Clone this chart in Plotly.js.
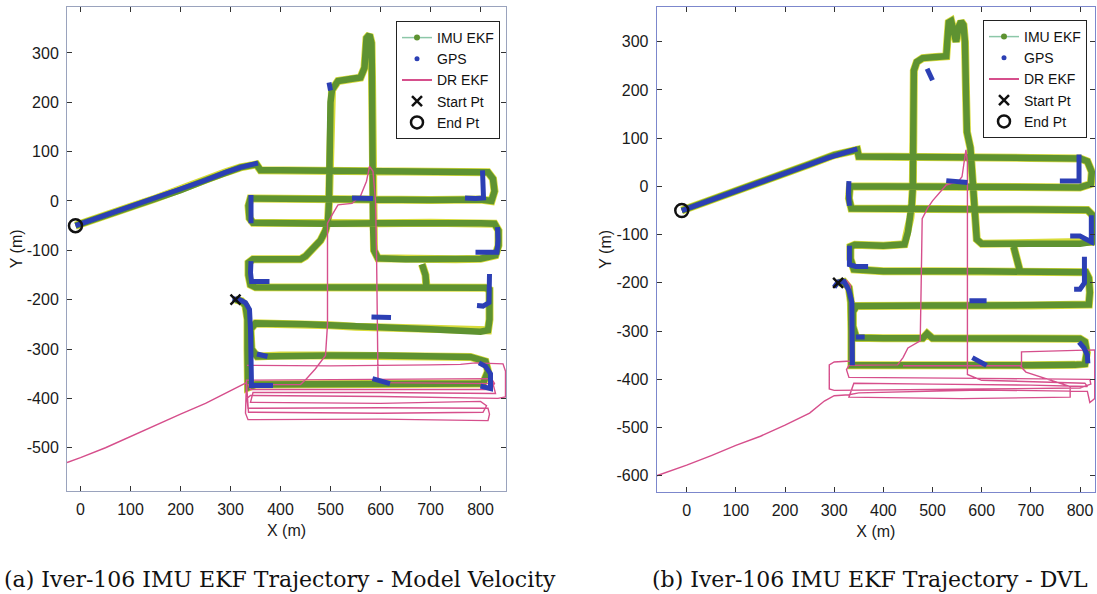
<!DOCTYPE html>
<html><head><meta charset="utf-8">
<script src="https://cdn.plot.ly/plotly-3.0.1.min.js"></script>
<style>html,body{margin:0;padding:0;background:#fff}#chart{width:1097px;height:594px}</style>
</head><body><div id="chart"></div>
<script>
// ---------- (a) Model Velocity ----------
const imuA_x = [310,322,330,334,334,333,335, 350,400,450,500,550,600,650,700,750,790,805, 815,810,780, 700,600,500,400,353, 342,340,350, 400,450,500,550,600,650,700,750,800,815, 818,818,818,810, 750,692,600,500,400,350,340, 336,336,345, 400,440,450,465,480,490,495,497,498,500,503,515,540,560,568,570,572,578,582,583,583,584,585,587,595,650,700,750,800,830, 836,836,828, 800,700,600,500,400,345,338, 336,340, 400,500,600,700,800,822, 828,825,815, 700,600,500,400,360,352, 320,290,250,200,150,100,50,0,-10, null, 683,690,692];
const imuA_y = [-200,-203,-212,-240,-300,-350,-378, -372,-372,-371,-372,-370,-371,-372,-372,-371,-373,-370, -345,-325,-316, -314,-313,-313,-313,-315, -300,-260,-248, -248,-250,-252,-255,-257,-258,-260,-262,-265,-262, -240,-200,-180,-176, -176,-176,-176,-177,-176,-175,-170, -150,-125,-118, -118,-118,-112,-95,-80,-60,-40,0,100,200,225,243,247,250,270,300,330,337,320,250,150,50,-50,-100,-116,-118,-118,-118,-117,-110, -90,-60,-46, -45,-44,-45,-46,-45,-44,-35, -10,5, 4,3,2,2,3,0, 20,45,58, 60,60,61,62,62,74, 68,58,42,22,5,-12,-29,-45,-50, null, -128,-150,-176];

const gpsA_x = [-10,50,100,150,200,250,290,320,355, null, 497,500, null, 543,585, null, 804,805,806,790,769, null, 341,340,341, null, 834,835,833,810,790, null, 341,340,342,360,378, null, 818,818,817,805,793, null, 582,621, null, 304,318,330,338,340,341,342,385, null, 353,374, null, 584,619, null, 797,810,820,820,800];
const gpsA_y = [-50,-29,-12,5,22,42,58,68,77, null, 240,224, null, 6,5, null, 62,30,6,5,6, null, 12,-15,-45, null, -53,-80,-104,-105,-104, null, -122,-145,-163,-164,-163, null, -148,-180,-206,-213,-212, null, -235,-236, null, -198,-200,-206,-220,-260,-320,-374,-374, null, -310,-315, null, -360,-370, null, -328,-335,-350,-380,-375];

const drA_x = [333,500,700,760,790,845,850,850,835,600,340,333,335,600,815,818,815,600,335,330,332,600,822,828,820,600,340,336,440,452,470,490,494,494,494,505,515,543,560,572,578,585,590,592,593,594,595,600,825,830,600,345,340,600,800,812,805,600,336,332,300,250,200,150,100,50,0,-27];
const drA_y = [-333,-334,-332,-331,-328,-330,-345,-397,-400,-396,-394,-400,-420,-419,-420,-432,-445,-442,-443,-430,-363,-362,-360,-370,-382,-382,-382,-372,-372,-360,-340,-313,-250,-150,-45,-25,-8,-5,10,40,70,60,0,-100,-200,-300,-358,-368,-370,-390,-388,-388,-408,-410,-406,-415,-428,-430,-428,-368,-385,-410,-432,-455,-477,-500,-520,-530];

const startA = [310,-200], endA = [-10,-50];

// ---------- (b) DVL ----------
const imuB_x = [308,320,330,334,335,335, 400,500,600,700,790,810, 814,810,800, 700,600,500,489,480,400,345, 338,338,345, 400,500,600,700,800,818, 820,818,812, 700,678,600,500,400,340, 333,333,342, 400,443,450,455,458,460,461,461,462,468,480,500,528,530,533,538,542,548,553,558,563,566,568,570,577,582,585,590,600, 700,800,826, 828,826,815, 700,600,500,400,335, 330,332, 400,500,600,700,800,822, 824,815,800, 700,600,500,400,350,347, 300,250,200,150,100,50,0,-10, null, 678,672,665];
const imuB_y = [-200,-198,-210,-240,-300,-371, -371,-372,-372,-371,-370,-368, -345,-322,-316, -315,-315,-315,-305,-315,-315,-314, -290,-260,-248, -247,-247,-247,-247,-247,-245, -220,-190,-178, -176,-176,-176,-176,-176,-172, -150,-125,-121, -123,-120,-95,-65,-35,0,100,200,240,258,266,268,270,300,340,343,320,300,330,342,335,300,200,113,80,20,-50,-110,-119, -119,-119,-115, -90,-60,-49, -48,-48,-48,-48,-46, -25,0, 0,-1,0,-1,-2,5, 30,52,58, 59,59,59,60,62,76, 65,46,28,10,-8,-25,-45,-50, null, -176,-150,-125];

const gpsB_x = [-10,74,150,216,287,347, null, 489,500, null, 528,571, null, 798,798,798,780,759, null, 330,329,331, null, 823,824,823,800,780, null, 331,330,331,344,369, null, 809,810,809,800,788, null, 575,610, null, 300,308,320,330,336,336,337, null, 344,362, null, 581,595,610, null, 798,808,815,816];
const gpsB_y = [-50,-20,8,33,59,78, null, 244,220, null, 12,8, null, 66,40,11,11,11, null, 11,-15,-40, null, -60,-90,-115,-103,-103, null, -123,-145,-162,-166,-166, null, -146,-170,-200,-213,-213, null, -237,-237, null, -209,-198,-197,-216,-240,-300,-371, null, -312,-312, null, -355,-362,-371, null, -323,-335,-350,-367];

const drB_x = [310,325,333,333,333,333,300,290,290,300,600,800,822,820,600,330,325,330,429,440,450,475,477,479,490,500,528,553,560,566,568,571,571,571,571,600,700,810,815,700,500,340,330,560,780,780,690,678,440,681,681,830,830,820,815,600,350,330,300,280,250,200,150,100,50,0,-61];
const drB_y = [-195,-195,-205,-250,-300,-362,-364,-370,-420,-423,-420,-418,-410,-400,-398,-396,-380,-371,-370,-355,-335,-320,-200,-67,-45,-30,3,11,20,60,76,50,-100,-300,-390,-402,-405,-408,-415,-412,-410,-408,-437,-440,-437,-415,-385,-372,-372,-372,-343,-339,-440,-448,-425,-422,-428,-432,-434,-445,-470,-495,-518,-537,-558,-578,-600];

const startB = [308,-200], endB = [-10,-50];

// ---------- axis ticks ----------
const xTicks = [0,100,200,300,400,500,600,700,800];
const xTickText = ['0','100','200','300','400','500','600','700','800'];
const yTicksA = [-500,-400,-300,-200,-100,0,100,200,300];
const yTickTextA = ['-500','-400','-300','-200','-100','0','100','200','300'];
const yTicksB = [-600,-500,-400,-300,-200,-100,0,100,200,300];
const yTickTextB = ['-600','-500','-400','-300','-200','-100','0','100','200','300'];
const legendNames = ['IMU EKF','GPS','DR EKF','Start Pt','End Pt'];
const captions = ['(a) Iver-106 IMU EKF Trajectory - Model Velocity','(b) Iver-106 IMU EKF Trajectory - DVL'];

const GREEN='#5e9231', YEL='#d9dc3a', BLUE='#2c3fb4', PINK='#d64f8c', BLK='#111';

function panel(xs, ys, gx, gy, dx, dy, st, en, xa, ya, leg){
  const t=[];
  t.push({x:xs,y:ys,xaxis:xa,yaxis:ya,mode:'lines',line:{color:YEL,width:8},hoverinfo:'skip',showlegend:false});
  t.push({x:xs,y:ys,xaxis:xa,yaxis:ya,mode:'lines',line:{color:GREEN,width:6.5},hoverinfo:'skip',showlegend:false});
  t.push({x:dx,y:dy,xaxis:xa,yaxis:ya,mode:'lines',line:{color:PINK,width:1.4},showlegend:false});
  t.push({x:gx,y:gy,xaxis:xa,yaxis:ya,mode:'lines',line:{color:BLUE,width:5},showlegend:false});
  t.push({x:[st[0]],y:[st[1]],xaxis:xa,yaxis:ya,mode:'markers',marker:{symbol:'x-thin-open',size:10,color:BLK,line:{color:BLK,width:2.5}},showlegend:false});
  t.push({x:[en[0]],y:[en[1]],xaxis:xa,yaxis:ya,mode:'markers',marker:{symbol:'circle-open',size:13,color:BLK,line:{color:BLK,width:2.5}},showlegend:false});
  // legend entries
  t.push({x:[null],y:[null],xaxis:xa,yaxis:ya,name:legendNames[0],legend:leg,mode:'lines+markers',line:{color:'#8cc7a8',width:1.5},marker:{color:GREEN,size:6}});
  t.push({x:[null],y:[null],xaxis:xa,yaxis:ya,name:legendNames[1],legend:leg,mode:'markers',marker:{color:BLUE,size:5}});
  t.push({x:[null],y:[null],xaxis:xa,yaxis:ya,name:legendNames[2],legend:leg,mode:'lines',line:{color:PINK,width:2}});
  t.push({x:[null],y:[null],xaxis:xa,yaxis:ya,name:legendNames[3],legend:leg,mode:'markers',marker:{symbol:'x-thin-open',size:10,color:BLK,line:{color:BLK,width:2.5}}});
  t.push({x:[null],y:[null],xaxis:xa,yaxis:ya,name:legendNames[4],legend:leg,mode:'markers',marker:{symbol:'circle-open',size:12,color:BLK,line:{color:BLK,width:2.5}}});
  return t;
}

const data = [].concat(
  panel(imuA_x, imuA_y, gpsA_x, gpsA_y, drA_x, drA_y, startA, endA, 'x', 'y', 'legend'),
  panel(imuB_x, imuB_y, gpsB_x, gpsB_y, drB_x, drB_y, startB, endB, 'x2', 'y2', 'legend2')
);

const tickFont = {family:'Liberation Sans, Arial, sans-serif', size:16, color:'#1a1a1a'};
function xax(dom, rng, col){
  return {domain:dom, range:rng, tickvals:xTicks, ticktext:xTickText, ticks:'inside', ticklen:5, tickcolor:'#333',
    showline:true, linecolor:col, linewidth:1, mirror:'ticks', showgrid:false, zeroline:false, tickfont:tickFont,
    ticklabelstandoff:4, title:{text:'X (m)', font:{family:'Liberation Sans, Arial, sans-serif', size:16, color:'#1a1a1a'}, standoff:7}};
}
function yax(dom, rng, tv, tt, col, anchor){
  return {domain:dom, range:rng, tickvals:tv, ticktext:tt, ticks:'inside', ticklen:5, tickcolor:'#333', anchor:anchor,
    showline:true, linecolor:col, linewidth:1, mirror:'ticks', showgrid:false, zeroline:false, tickfont:tickFont,
    ticklabelstandoff:4, title:{text:'Y (m)', font:{family:'Liberation Sans, Arial, sans-serif', size:16, color:'#1a1a1a'}, standoff:0}};
}

const legBase = {bgcolor:'#fff', bordercolor:'#222', borderwidth:1, font:{family:'Liberation Sans, Arial, sans-serif', size:14, color:'#111'},
  xanchor:'right', yanchor:'top', tracegroupgap:0, itemwidth:30};

const layout = {
  width:1097, height:594, margin:{l:0,r:0,t:0,b:0}, paper_bgcolor:'#fff', plot_bgcolor:'#fff',
  xaxis: Object.assign(xax([67/1097, 506/1097], [-27, 851], '#9aa3bd'), {anchor:'y'}),
  yaxis: yax([1-490.7/594, 1-7/594], [-587, 393], yTicksA, yTickTextA, '#9aa3bd', 'x'),
  xaxis2: Object.assign(xax([656.7/1097, 1095/1097], [-61, 830.5], '#7c87cc'), {anchor:'y2'}),
  yaxis2: yax([1-491.7/594, 1-7/594], [-633, 372], yTicksB, yTickTextB, '#7c87cc', 'x2'),
  legend: Object.assign({}, legBase, {x:500/1097, y:1-21/594}),
  legend2: Object.assign({}, legBase, {x:1087/1097, y:1-20/594}),
  annotations:[
    {text:captions[0], xref:'paper', yref:'paper', x:280/1097, y:1-579/594, xanchor:'center', yanchor:'middle', showarrow:false,
     font:{family:'DejaVu Serif, Liberation Serif, serif', size:22, color:'#111'}},
    {text:captions[1], xref:'paper', yref:'paper', x:870/1097, y:1-579/594, xanchor:'center', yanchor:'middle', showarrow:false,
     font:{family:'DejaVu Serif, Liberation Serif, serif', size:22, color:'#111'}}
  ]
};
Plotly.newPlot('chart', data, layout, {staticPlot:true, displayModeBar:false});
</script>
</body></html>
